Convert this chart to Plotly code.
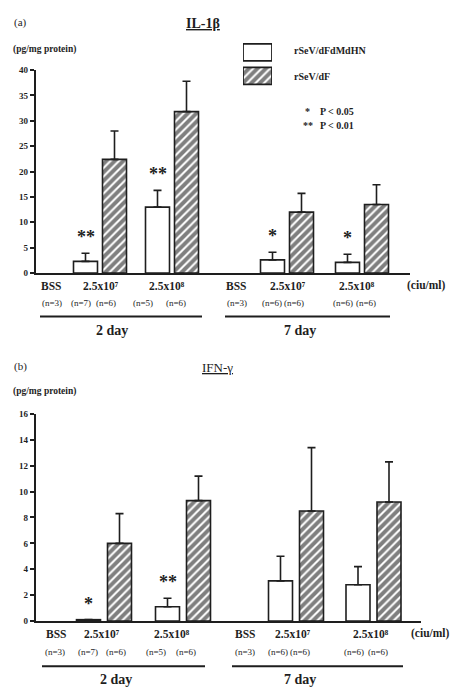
import plotly.graph_objects as go

# ---------------- data ----------------
doses = ["BSS", "2.5x10⁷", "2.5x10⁸"]
days = ["2 day", "7 day"]
n_labels = ["(n=3)", "(n=7)", "(n=6)", "(n=5)", "(n=6)",
            "(n=3)", "(n=6)", "(n=6)", "(n=6)", "(n=6)"]

il1b_open = [None, 2.3, 13.0, None, 2.6, 2.1]
il1b_open_sd = [0, 1.6, 3.3, 0, 1.5, 1.6]
il1b_dF = [None, 22.4, 31.8, None, 12.0, 13.5]
il1b_dF_sd = [0, 5.6, 6.0, 0, 3.7, 3.9]
il1b_sig = ["", "**", "**", "", "*", "*"]

ifn_open = [None, 0.1, 1.1, None, 3.1, 2.8]
ifn_open_sd = [0, 0.0, 0.65, 0, 1.9, 1.4]
ifn_dF = [None, 6.0, 9.3, None, 8.5, 9.2]
ifn_dF_sd = [0, 2.3, 1.9, 0, 4.9, 3.1]
ifn_sig = ["", "*", "**", "", "", ""]

# ---------------- layout helpers ----------------
W, H = 462, 691
def px(x): return x / W
def py(y): return 1 - y / H

INK = "#1e1e1e"
SERIF = "Liberation Serif"

# group centres (in axis units = pixels) for each panel
top_centers = [55, 100, 172, 237, 287, 362]
bot_centers = [56, 104, 183, 245, 296, 373.5]
top_off = (-26.5, 2.5)
bot_off = (-27.5, 3.5)
BW = 24

# label positions (pixels)
top_dose_x = [51, 101, 167, 236, 288, 357]
bot_dose_x = [56, 102, 172, 245, 293, 371]
top_n_x = [52, 81, 106, 143, 176, 237, 272, 294, 343, 366]
bot_n_x = [55, 88, 116, 156, 186, 245, 278, 300, 354, 378]

fig = go.Figure()

HATCH = dict(shape="/", fgcolor="#000000", bgcolor="white", size=6, solidity=0.66)

def add_panel(vals_o, sd_o, vals_h, sd_h, centers, off, xa, ya, sig):
    fig.add_trace(go.Bar(
        x=centers, y=vals_o, width=BW, offset=off[0],
        marker=dict(color="white", line=dict(color=INK, width=1.6)),
        error_y=dict(type="data", array=sd_o, arrayminus=[0]*len(sd_o), symmetric=False,
                     color=INK, thickness=1.6, width=4),
        xaxis=xa, yaxis=ya, showlegend=False))
    fig.add_trace(go.Bar(
        x=centers, y=vals_h, width=BW, offset=off[1],
        marker=dict(color="white", line=dict(color=INK, width=1.6), pattern=HATCH),
        error_y=dict(type="data", array=sd_h, arrayminus=[0]*len(sd_h), symmetric=False,
                     color=INK, thickness=1.6, width=4),
        xaxis=xa, yaxis=ya, showlegend=False))
    for c, v, s, t in zip(centers, vals_o, sd_o, sig):
        if t and v is not None:
            fig.add_annotation(x=c + off[0] + BW / 2, y=v + s, xref=xa, yref=ya,
                               text="<b>%s</b>" % t, showarrow=False, yanchor="bottom",
                               yshift=4, font=dict(family=SERIF, size=18, color=INK))

add_panel(il1b_open, il1b_open_sd, il1b_dF, il1b_dF_sd, top_centers, top_off, "x", "y", il1b_sig)
add_panel(ifn_open, ifn_open_sd, ifn_dF, ifn_dF_sd, bot_centers, bot_off, "x2", "y2", ifn_sig)

# legend swatches on a small hidden axis
fig.add_trace(go.Bar(
    x=[1, 1], y=[0, 1], orientation="h", width=0.72,
    marker=dict(color="white", line=dict(color=INK, width=1.8),
                pattern=dict(shape=["", "/"], fgcolor="#000000", bgcolor="white", size=6, solidity=0.66)),
    xaxis="x3", yaxis="y3", showlegend=False, hoverinfo="skip"))

axis_common = dict(showgrid=False, zeroline=False)
fig.update_layout(
    width=W, height=H, margin=dict(l=0, r=0, t=0, b=0),
    paper_bgcolor="white", plot_bgcolor="white", barmode="overlay",
    xaxis=dict(domain=[px(36), px(410)], range=[36, 410], showline=True, linecolor=INK,
               linewidth=1.6, showticklabels=False, ticks="", anchor="y", **axis_common),
    yaxis=dict(domain=[py(272), py(66)], range=[0, 40], dtick=5, ticks="outside", ticklen=4,
               tickwidth=1.6, tickcolor=INK, showline=True, linecolor=INK, linewidth=2.2,
               tickfont=dict(family=SERIF, size=9, color=INK, weight="bold"), anchor="x",
               **axis_common),
    xaxis2=dict(domain=[px(36), px(421)], range=[36, 421], showline=True, linecolor=INK,
                linewidth=1.6, showticklabels=False, ticks="", anchor="y2", **axis_common),
    yaxis2=dict(domain=[py(625), py(415)], range=[0, 16], dtick=2, ticks="outside", ticklen=4,
                tickwidth=1.6, tickcolor=INK, showline=True, linecolor=INK, linewidth=2.2,
                tickfont=dict(family=SERIF, size=9, color=INK, weight="bold"), anchor="x2",
                **axis_common),
    xaxis3=dict(domain=[px(243), px(272)], range=[0, 1], visible=False, anchor="y3"),
    yaxis3=dict(domain=[py(84), py(36)], range=[1.5, -0.5], visible=False, anchor="x3"),
)

def txt(x, y, s, size=10, bold=False, xanchor="center"):
    fig.add_annotation(x=px(x), y=py(y), xref="paper", yref="paper", showarrow=False,
                       text=("<b>%s</b>" % s) if bold else s, xanchor=xanchor, yanchor="middle",
                       font=dict(family=SERIF, size=size, color=INK))

# titles
txt(12, 18, "(a)", 11, xanchor="left")
txt(203, 19, "<u>IL-1β</u>", 14, bold=True)
txt(11, 45, "(pg/mg protein)", 9.5, bold=True, xanchor="left")
txt(12, 367, "(b)", 11, xanchor="left")
txt(217, 368, "<u>IFN-γ</u>", 13)
txt(11, 392, "(pg/mg protein)", 9.5, bold=True, xanchor="left")

# legend text
txt(292, 46, "rSeV/dFdMdHN", 10, bold=True, xanchor="left")
txt(292, 73, "rSeV/dF", 10, bold=True, xanchor="left")
txt(307, 108, "*", 10, bold=True)
txt(318, 108, "P < 0.05", 10, bold=True, xanchor="left")
txt(308, 122, "**", 10, bold=True)
txt(318, 122, "P < 0.01", 10, bold=True, xanchor="left")

def x_labels(dose_x, n_x, y_lab, y_n, y_line, y_day, day_x, line_spans):
    for i, x in enumerate(dose_x):
        txt(x, y_lab, doses[i % 3], 11.5, bold=True)
    for x, s in zip(n_x, n_labels):
        txt(x, y_n, s, 9)
    for (a, b), dx, dname in zip(line_spans, day_x, days):
        fig.add_shape(type="line", xref="paper", yref="paper", x0=px(a), x1=px(b),
                      y0=py(y_line), y1=py(y_line), line=dict(color=INK, width=2))
        txt(dx, y_day, dname, 14, bold=True)

x_labels(top_dose_x, top_n_x, 285, 302, 316, 330, [112, 300], [(40, 202), (225, 390)])
txt(426, 285, "(ciu/ml)", 11.5, bold=True)
x_labels(bot_dose_x, bot_n_x, 638, 656, 671, 684, [116, 300], [(42, 205), (232, 403)])
txt(430, 638, "(ciu/ml)", 11.5, bold=True)

fig.write_html("out.html")
